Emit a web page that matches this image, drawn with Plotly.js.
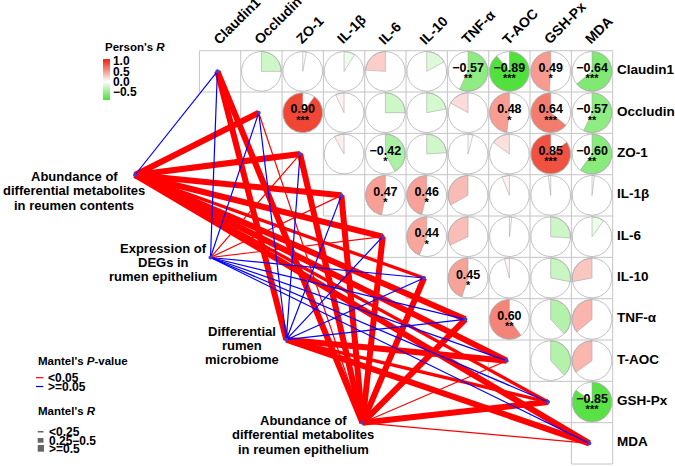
<!DOCTYPE html>
<html><head><meta charset="utf-8">
<script src="https://cdn.plot.ly/plotly-3.0.1.min.js"></script>
<style>html,body{margin:0;padding:0;background:#fff}#chart{width:675px;height:466px}</style>
</head><body><div id="chart"></div>
<script>
// ---------- DATA ----------
const variables = ['Claudin1','Occludin','ZO-1','IL-1β','IL-6','IL-10','TNF-α','T-AOC','GSH-Px','MDA'];
// Pearson correlations, upper triangle, row by row (columns after the diagonal)
const corrClaudin1 = [-0.25,-0.03,-0.09,0.24,-0.17,-0.57,-0.89,0.49,-0.64];
const corrOccludin = [0.90,0.07,-0.25,-0.22,0.17,0.48,0.64,-0.57];
const corrZO1      = [0.08,-0.42,-0.24,-0.04,0.15,0.85,-0.60];
const corrIL1b     = [0.47,0.46,0.33,0.06,0.02,-0.02];
const corrIL6      = [0.44,0.32,-0.02,-0.26,-0.10];
const corrIL10     = [0.45,0.04,-0.28,0.28];
const corrTNFa     = [0.60,-0.38,0.36];
const corrTAOC     = [-0.38,0.35];
const corrGSHPx    = [-0.85];
// significance stars, same shape
const starsClaudin1 = ['','','','','','**','***','*','***'];
const starsOccludin = ['***','','','','','*','***','**'];
const starsZO1      = ['','*','','','','***','**'];
const starsIL1b     = ['*','*','','','',''];
const starsIL6      = ['*','','','',''];
const starsIL10     = ['*','','',''];
const starsTNFa     = ['**','',''];
const starsTAOC     = ['',''];
const starsGSHPx    = ['***'];

// Mantel test: sources
const sourceLabels = [
  ['Abundance of','differential metabolites','in reumen contents'],
  ['Expression of','DEGs in','rumen epithelium'],
  ['Differential','rumen','microbiome'],
  ['Abundance of','differential metabolites','in reumen epithelium']
];
// 1 = P<0.05 (red), 0 = P>=0.05 (blue); order follows `variables`
const mantelSigContents   = [0,1,1,1,1,1,1,1,1,1];
const mantelSigDEGs       = [0,0,1,1,1,0,0,0,0,0];
const mantelSigMicrobiome = [1,0,0,0,0,0,0,1,1,1];
const mantelSigEpithelium = [1,1,1,1,1,1,1,1,1,1];
// Mantel's R class: 0 = <0.25, 1 = 0.25-0.5, 2 = >=0.5
const mantelRContents   = [0,2,2,2,2,1,2,2,1,2];
const mantelRDEGs       = [0,0,0,0,0,0,0,0,0,0];
const mantelRMicrobiome = [2,0,0,0,0,0,0,2,1,2];
const mantelREpithelium = [2,0,2,2,2,2,2,0,2,0];

// ---------- LAYOUT GEOMETRY (pixels) ----------
const W = 675, H = 466;
const CELL = 41.33, X0 = 199.4, Y0 = 50.7;
const u = px => (px - (X0 + CELL/2)) / CELL;
const v = py => (py - (Y0 + CELL/2)) / CELL;
const sourcePos = [[135,175],[210.5,257.5],[286.3,339.7],[362.5,422.8]];
const labelPos = [ // center x, line y's
  [74,[176.7,190.7,205]],
  [163,[248.3,262.7,276.7]],
  [242,[331,345.7,359.3]],
  [303,[420.7,434.5,449]]
];
const NODE_DX = -0.065;
const FONT = 'Arial, "Liberation Sans", sans-serif';

const corrRows = [corrClaudin1,corrOccludin,corrZO1,corrIL1b,corrIL6,corrIL10,corrTNFa,corrTAOC,corrGSHPx];
const starRows = [starsClaudin1,starsOccludin,starsZO1,starsIL1b,starsIL6,starsIL10,starsTNFa,starsTAOC,starsGSHPx];
const sigRows = [mantelSigContents,mantelSigDEGs,mantelSigMicrobiome,mantelSigEpithelium];
const rRows = [mantelRContents,mantelRDEGs,mantelRMicrobiome,mantelREpithelium];

function corrColor(r){
  const t = Math.min(Math.abs(r),1);
  const end = r >= 0 ? [238,50,30] : [58,221,36];
  const c = end.map(e => Math.round(255 + (e-255)*t));
  return 'rgb(' + c.join(',') + ')';
}

const traces = [];
// grid
(function(){
  const gx = [], gy = [];
  const n = variables.length;
  for (let k = 0; k <= n; k++) {
    const y = k - 0.5;
    const x0 = k === 0 ? -0.5 : (k === n ? n - 1.5 : k - 1.5);
    gx.push(x0, n - 0.5, null); gy.push(y, y, null);
  }
  for (let m = 0; m <= n; m++) {
    const x = m - 0.5;
    const y1 = m === n ? n - 0.5 : m + 0.5;
    gx.push(x, x, null); gy.push(-0.5, y1, null);
  }
  traces.push({x: gx, y: gy, mode: 'lines', line: {color: '#c4c4c4', width: 1}, hoverinfo: 'skip', showlegend: false});
})();

// Mantel edges
const widths = [1.2, 3.3, 6];
const edges = [];
sigRows.forEach((sig, s) => {
  sig.forEach((p, j) => edges.push({s, j, red: p === 1, w: rRows[s][j]}));
});
edges.sort((a,b) => (b.w - a.w) || ((b.red?1:0) - (a.red?1:0)));
edges.forEach(e => {
  const [sx, sy] = sourcePos[e.s];
  traces.push({
    x: [u(sx), e.j + NODE_DX], y: [v(sy), e.j], mode: 'lines',
    line: {color: e.red ? '#ff0000' : '#0000ff', width: widths[e.w]},
    hoverinfo: 'skip', showlegend: false
  });
});

// pies
const R = 0.48;
const circX = [], circY = [];
const allR = [], allX = [], allY = [];
const valX = [], valY = [], valT = [], stX = [], stY = [], stT = [];
corrRows.forEach((row, i) => {
  row.forEach((r, k) => {
    const j = i + 1 + k;
    allR.push(r); allX.push(j); allY.push(i);
    for (let a = 0; a <= 72; a++) {
      const th = a / 72 * 2 * Math.PI;
      circX.push(j + R*Math.sin(th)); circY.push(i - R*Math.cos(th));
    }
    circX.push(null); circY.push(null);
    const sgn = r >= 0 ? -1 : 1;
    const span = Math.abs(r) * 2 * Math.PI;
    const steps = Math.max(2, Math.ceil(Math.abs(r) * 72));
    const px = [j], py = [i];
    for (let a = 0; a <= steps; a++) {
      const th = span * a / steps;
      px.push(j + sgn*R*Math.sin(th)); py.push(i - R*Math.cos(th));
    }
    px.push(j); py.push(i);
    traces.push({x: px, y: py, mode: 'lines', fill: 'toself', fillcolor: corrColor(r),
      line: {color: '#9a9a9a', width: 0.5}, hoverinfo: 'skip', showlegend: false});
    const st = starRows[i][k];
    if (st) {
      valX.push(j); valY.push(i - 0.06); valT.push(r.toFixed(2).replace('-', '\u2212'));
      stX.push(j); stY.push(i + 0.2); stT.push(st);
    }
  });
});
traces.push({x: circX, y: circY, mode: 'lines', line: {color: '#b0b0b0', width: 0.8}, hoverinfo: 'skip', showlegend: false});
traces.push({x: valX, y: valY, text: valT, mode: 'text', textposition: 'middle center',
  textfont: {family: FONT, size: 12.5, color: '#000', weight: 'bold'}, hoverinfo: 'skip', showlegend: false});
traces.push({x: stX, y: stY, text: stT, mode: 'text', textposition: 'middle center',
  textfont: {family: FONT, size: 11, color: '#000', weight: 'bold'}, hoverinfo: 'skip', showlegend: false});

// colour bar carrier (invisible markers with the correlation values)
const cmin = -0.9, cmax = 1.09;
const z0 = (0 - cmin) / (cmax - cmin);
traces.push({x: allX, y: allY, mode: 'markers', hoverinfo: 'skip', showlegend: false,
  marker: {size: 1, opacity: 0, color: allR, cmin, cmax,
    colorscale: [[0, corrColor(cmin)], [z0, '#ffffff'], [(1 - cmin)/(cmax - cmin), corrColor(1)], [1, corrColor(1)]],
    showscale: true,
    colorbar: {x: 103/W, xanchor: 'left', y: 1 - 79.75/H, yanchor: 'middle',
      len: 40.5, lenmode: 'pixels', thickness: 7, thicknessmode: 'pixels',
      xpad: 0, ypad: 0, outlinewidth: 0, ticks: '', ticklen: 0,
      tickvals: [1, 0.5, 0, -0.5], ticktext: ['1.0','0.5','0.0','\u22120.5'],
      tickfont: {family: FONT, size: 12, color: '#000', weight: 'bold'}
    }}});

// nodes
const nodeX = variables.map((_, j) => j + NODE_DX), nodeY = variables.map((_, j) => j);
sourcePos.forEach(p => { nodeX.push(u(p[0])); nodeY.push(v(p[1])); });
traces.push({x: nodeX, y: nodeY, mode: 'markers', marker: {size: 4, color: '#4040d0'}, hoverinfo: 'skip', showlegend: false});

// ---------- annotations ----------
const ann = [];
const tf = (size, extra) => Object.assign({family: FONT, size, color: '#000', weight: 'bold'}, extra || {});
variables.forEach((name, j) => {
  ann.push({x: u(615), y: v(Y0 + CELL*(j+0.5) - 1.5), xref: 'x', yref: 'y', text: name, showarrow: false,
    xanchor: 'left', yanchor: 'middle', font: tf(13.5)});
  ann.push({x: u(X0 + CELL*(j+0.5) - 13), y: v(50), xref: 'x', yref: 'y', text: name, showarrow: false,
    xanchor: 'left', yanchor: 'bottom', textangle: -45, font: tf(14)});
});
sourceLabels.forEach((lines, s) => {
  lines.forEach((t, l) => ann.push({x: u(labelPos[s][0]), y: v(labelPos[s][1][l]), xref: 'x', yref: 'y',
    text: t, showarrow: false, xanchor: 'center', yanchor: 'middle', font: tf(13)}));
});
const P = (x, y) => ({x: x/W, y: 1 - y/H});
const legText = [
  ["Person's <i>R</i>", 103, 47, 11.5],
  ["Mantel's <i>P</i>-value", 36, 360.7, 11.5],
  ['&lt;0.05', 46, 377.7, 12],
  ['>=0.05', 46, 386.7, 12],
  ["Mantel's <i>R</i>", 36, 410.7, 11.5],
  ['&lt;0.25', 47, 431.7, 12],
  ['0.25\u22120.5', 47, 441, 12],
  ['>=0.5', 47, 449.3, 12]
];
legText.forEach(([t, x, y, s]) => ann.push(Object.assign(P(x, y), {xref: 'paper', yref: 'paper', text: t, showarrow: false,
  xanchor: 'left', yanchor: 'middle', font: tf(s)})));

const shapes = [
  {type: 'line', xref: 'paper', yref: 'paper', x0: 36/W, x1: 43.3/W, y0: 1-377.7/H, y1: 1-377.7/H, line: {color: '#ff0000', width: 1.2}},
  {type: 'line', xref: 'paper', yref: 'paper', x0: 36/W, x1: 43.3/W, y0: 1-386.5/H, y1: 1-386.5/H, line: {color: '#0000ff', width: 1.2}},
  {type: 'rect', xref: 'paper', yref: 'paper', x0: 37.7/W, x1: 43.5/W, y0: 1-432.5/H, y1: 1-431/H, fillcolor: '#666', line: {width: 0}},
  {type: 'rect', xref: 'paper', yref: 'paper', x0: 37.7/W, x1: 43.5/W, y0: 1-442.7/H, y1: 1-438/H, fillcolor: '#666', line: {width: 0}},
  {type: 'rect', xref: 'paper', yref: 'paper', x0: 37.7/W, x1: 44/W, y0: 1-451.7/H, y1: 1-445/H, fillcolor: '#666', line: {width: 0}}
];

const layout = {
  width: W, height: H, margin: {l: 0, r: 0, t: 0, b: 0},
  paper_bgcolor: '#fff', plot_bgcolor: '#fff', showlegend: false,
  xaxis: {range: [u(0), u(W)], visible: false, fixedrange: true},
  yaxis: {range: [v(H), v(0)], visible: false, fixedrange: true},
  annotations: ann, shapes: shapes
};
Plotly.newPlot('chart', traces, layout, {displayModeBar: false, staticPlot: true});
</script></body></html>
